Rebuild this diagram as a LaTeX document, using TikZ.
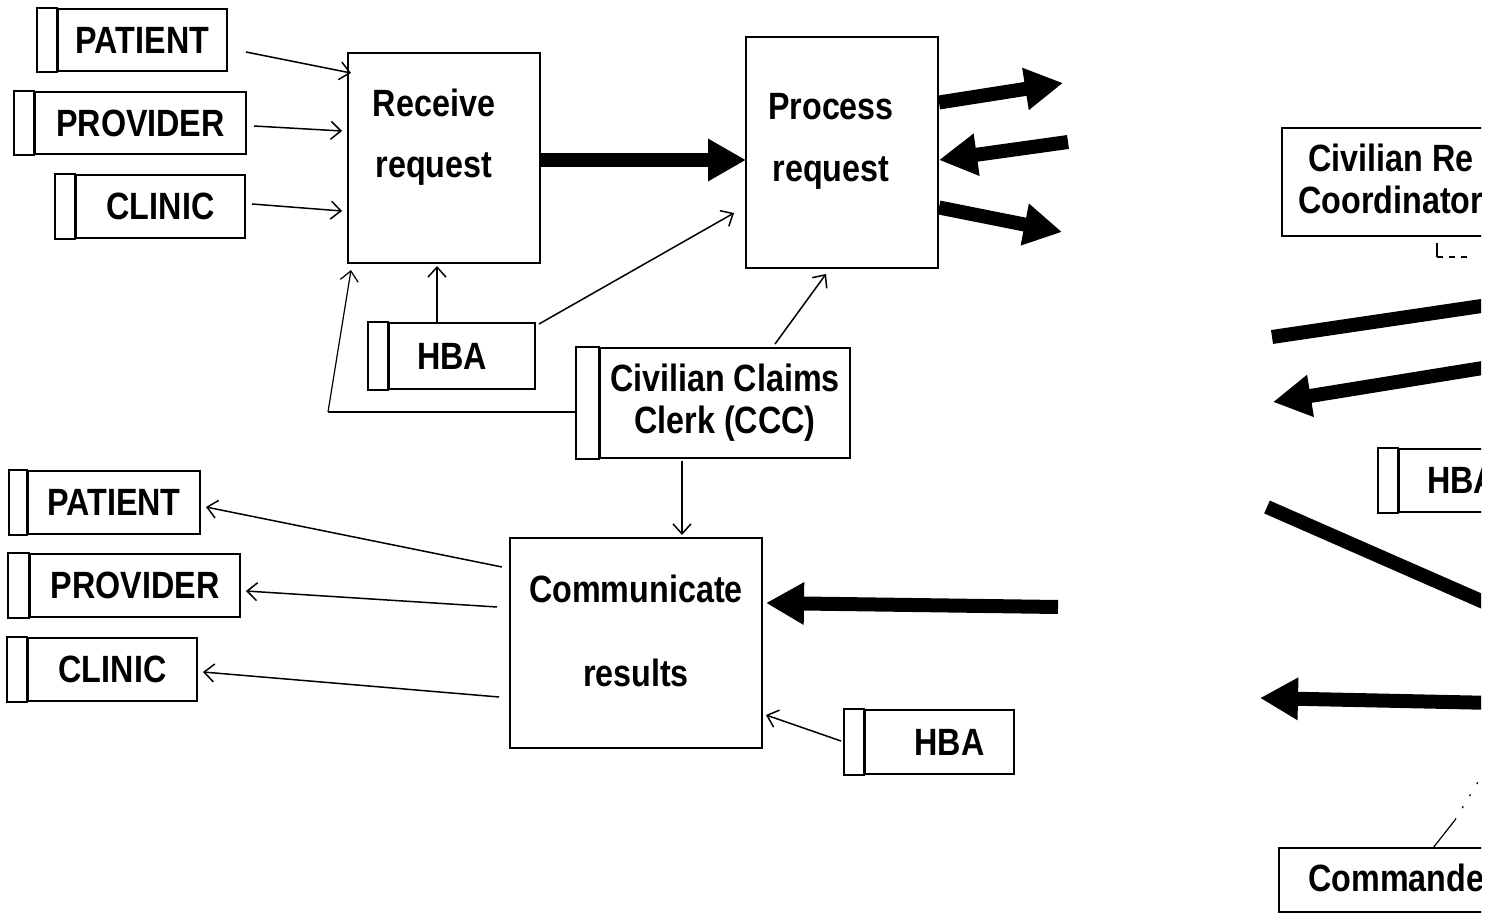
\documentclass[tikz,border=0pt]{standalone}
\usepackage{fontspec}
\setmainfont[FakeStretch=0.85]{Liberation Sans}
\usetikzlibrary{arrows.meta,calc}
\newcommand\stripfor[2]{\draw[strip] (#1.north west) rectangle ([xshift=-#2]#1.south west);}
\begin{document}
\begin{tikzpicture}[x=0.5pt,y=-0.5pt,
 lab/.style={font=\fontsize{19}{21}\selectfont\bfseries, inner sep=0pt},
 ent/.style={draw, line width=1pt, inner sep=0pt, lab, align=center},
 proc/.style={draw, line width=1pt, inner sep=0pt},
 thinarrow/.style={line width=0.75pt, -{Straight Barb[length=5pt,width=9pt]}},
 thinline/.style={line width=0.75pt},
 fat/.style={line width=7pt},
 fatarrow/.style={fat, -{Triangle[length=19pt,width=20pt]}},
 strip/.style={draw, line width=1pt}
]
\useasboundingbox (0,0) rectangle (1489,914);
\fill[white] (0,0) rectangle (1489,914);
\begin{scope}
\clip (0,0) rectangle (1481,914);

% ---------- external entities ----------
\node[ent, minimum width=84.5pt, minimum height=31pt] (p1) at (142.5,40) {PATIENT};
\node[ent, minimum width=105.5pt, minimum height=31pt] (pr1) at (140.5,123) {PROVIDER};
\node[ent, minimum width=84.5pt, minimum height=31.5pt] (c1) at (160.5,206.5) {CLINIC};
\node[ent, minimum width=73pt, minimum height=33pt] (hba1) at (462,356) {\hspace*{-10pt}HBA};
\node[ent, minimum width=125pt, minimum height=55pt, font=\fontsize{19}{21}\selectfont\bfseries] (ccc) at (725,403) {Civilian Claims\\Clerk (CCC)};
\node[ent, minimum width=86pt, minimum height=31.5pt] (p2) at (114,502.5) {PATIENT};
\node[ent, minimum width=105pt, minimum height=31.5pt] (pr2) at (135,585.5) {PROVIDER};
\node[ent, minimum width=84.5pt, minimum height=31.5pt] (c2) at (112.5,669.5) {CLINIC};
\node[ent, minimum width=74.5pt, minimum height=32pt] (hba2) at (939.5,742) {\hspace*{10pt}HBA};
\node[ent, minimum width=63pt, minimum height=31.5pt, anchor=north west] (hba3) at (1398,448) {HBA};
\stripfor{p1}{10pt}
\stripfor{pr1}{10pt}
\stripfor{c1}{10pt}
\stripfor{hba1}{10pt}
\stripfor{ccc}{11.5pt}
\stripfor{p2}{9pt}
\stripfor{pr2}{10.5pt}
\stripfor{c2}{10pt}
\stripfor{hba2}{10pt}
\stripfor{hba3}{10pt}

% ---------- processes ----------
\node[proc, minimum width=96pt, minimum height=105pt] (rr) at (444,158) {};
\node[lab, anchor=base] (rrt1) at (434,117) {Receive};
\node[lab, anchor=base] (rrt2) at (434,178) {request};
\node[proc, minimum width=96pt, minimum height=115.5pt] (prc) at (842,152.5) {};
\node[lab, anchor=base] (prct1) at (831,120) {Process};
\node[lab, anchor=base] (prct2) at (831,182) {request};
\node[proc, minimum width=126pt, minimum height=105pt] (cr) at (636,643) {};
\node[lab, anchor=base] (crt1) at (636,603) {Communicate};
\node[lab, anchor=base] (crt2) at (636,686) {results};

% ---------- cut-off boxes on the right ----------
\node[proc, minimum width=125pt, minimum height=54pt, anchor=north west] (cb) at (1281,127) {};
\node[lab, anchor=base west] (cbt1) at (1308,172) {Civilian Re};
\node[lab, anchor=base west] (cbt2) at (1298,214) {Coordinator};
\node[proc, minimum width=130pt, minimum height=32pt, anchor=north west] (cm) at (1278,847) {};
\node[lab, anchor=base west] (cmt) at (1308,891) {Commander};

% ---------- thin connectors ----------
\draw[thinarrow] ([shift={(18,12)}]p1.east) -- ([shift={(4,-85)}]rr.west);
\draw[thinarrow] ([shift={(7,3)}]pr1.east) -- ([shift={(-5,-27)}]rr.west);
\draw[thinarrow] ([shift={(6,-2.5)}]c1.east) -- ([shift={(-5,53)}]rr.west);
\draw[thinarrow] ([shift={(-25,0)}]hba1.north) -- ([shift={(-7,2)}]rr.south);
\draw[thinarrow] ([shift={(3,2)}]hba1.north east) -- ([shift={(-11,60.5)}]prc.west);
\draw[thinarrow] ([shift={(50,-3)}]ccc.north) -- ([shift={(-16,5)}]prc.south);
\draw[thinline] ([shift={(-23,9)}]ccc.west) -- (328,412);
\draw[line width=0.6pt, -{Straight Barb[length=5pt,width=9pt]}] (328,412) -- ([shift={(4,6)}]rr.south west);
\draw[thinarrow] ([shift={(-43,2)}]ccc.south) -- ([shift={(46,-2)}]cr.north);
\draw[thinarrow] ([shift={(-7,-76)}]cr.west) -- ([shift={(5,4.5)}]p2.east);
\draw[thinarrow] ([shift={(-12,-36)}]cr.west) -- ([shift={(5,5.5)}]pr2.east);
\draw[thinarrow] ([shift={(-10,54)}]cr.west) -- ([shift={(5,2.5)}]c2.east);
\draw[thinarrow] ([shift={(-23,-1)}]hba2.west) -- ([shift={(3,72)}]cr.east);

% ---------- thick flows ----------
\coordinate (o1) at (1063,83);
\coordinate (i1) at (1068,142);
\coordinate (o2) at (1062,232);
\coordinate (i2) at (1058,607);
\draw[fatarrow] ([shift={(0,2)}]rr.east) -- ([shift={(1,7.5)}]prc.west);
\draw[fatarrow] ([shift={(0,-50)}]prc.east) -- (o1);
\draw[fatarrow] (i1) -- ([shift={(0,7.5)}]prc.east);
\draw[fatarrow] ([shift={(0,55)}]prc.east) -- (o2);
\draw[fatarrow] (i2) -- ([shift={(3,-40)}]cr.east);

\coordinate (r1a) at (1272,337);
\coordinate (r1b) at (1495,304);
\coordinate (r2a) at (1495,366);
\coordinate (r2b) at (1273,402);
\coordinate (r3a) at (1267,507);
\coordinate (r3b) at (1495,607);
\coordinate (r4a) at (1495,703);
\coordinate (r4b) at (1260,698);
\draw[fat] (r1a) -- (r1b);
\draw[fatarrow] (r2a) -- (r2b);
\draw[fat] (r3a) -- (r3b);
\draw[fatarrow] (r4a) -- (r4b);

% ---------- small fragments ----------
\coordinate (m1) at (1437,243);
\coordinate (m2) at (1437,257);
\coordinate (m3) at (1470,257);
\draw[line width=0.6pt] (m1) -- (m2);
\draw[line width=0.6pt, dash pattern=on 3pt off 3pt] (m2) -- (m3);
\coordinate (n1) at (1433,848);
\coordinate (n2) at (1455,820);
\coordinate (n3) at (1478,782);
\draw[line width=0.6pt] (n1) -- (n2);
\draw[line width=0.6pt, dash pattern=on 1pt off 6pt] (n2) -- (n3);
\end{scope}
\end{tikzpicture}
\end{document}
